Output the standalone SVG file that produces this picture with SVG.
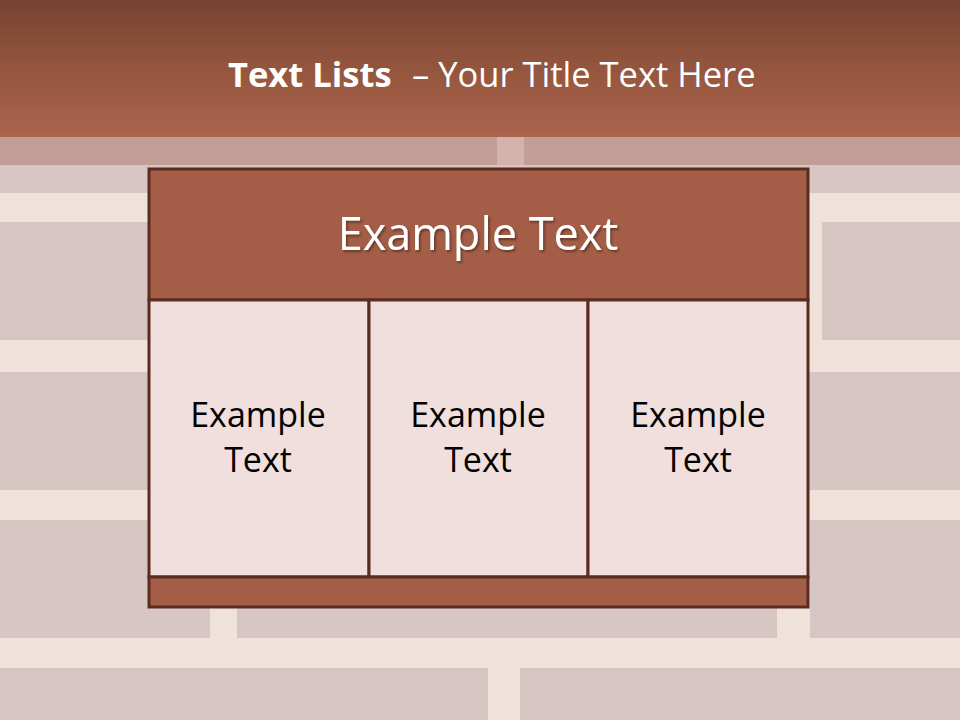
<svg xmlns="http://www.w3.org/2000/svg" width="960" height="720" viewBox="0 0 960 720">
<defs>
<linearGradient id="hdr" x1="0" y1="0" x2="0" y2="1">
<stop offset="0" stop-color="#764332"/>
<stop offset="0.55" stop-color="#97573f"/>
<stop offset="1" stop-color="#ab644e"/>
</linearGradient>
<filter id="sh" x="-10%" y="-20%" width="120%" height="140%">
<feDropShadow dx="1.5" dy="2" stdDeviation="1.2" flood-color="#3a1a10" flood-opacity="0.6"/>
</filter>
<style>
.mortar{fill:#eee2db}
.brick{fill:#d8c6c4}
.tbl{stroke:#5a2c20;stroke-width:3}
.hd{fill:#a45e47}
.cell{fill:#f0dfdc}
.ttl{font-family:"Open Sans","Noto Sans",sans-serif;fill:#ffffff;font-size:34.5px}
.big{font-family:"Open Sans","Noto Sans",sans-serif;font-size:45px;fill:#ffffff;text-anchor:middle}
.ct{font-family:"Open Sans","Noto Sans",sans-serif;font-size:34px;fill:#000000;text-anchor:middle}
</style>
</defs>
<g id="background">
<rect x="0" y="0" width="960" height="720" class="mortar"/>
<rect x="0" y="165" width="960" height="28" class="brick"/>
<rect x="0" y="222" width="960" height="118" class="brick"/>
<rect x="808" y="222" width="14" height="118" class="mortar"/>
<rect x="0" y="372" width="960" height="118" class="brick"/>
<rect x="0" y="520" width="210" height="118" class="brick"/>
<rect x="237" y="520" width="540" height="118" class="brick"/>
<rect x="810" y="520" width="150" height="118" class="brick"/>
<rect x="0" y="668" width="488" height="52" class="brick"/>
<rect x="520" y="668" width="440" height="52" class="brick"/>
<rect x="0" y="137" width="960" height="28" fill="#c29e97"/>
<rect x="497" y="137" width="27" height="28" fill="#d3b3ab"/>
</g>
<g id="header">
<rect x="0" y="0" width="960" height="137" fill="url(#hdr)"/>
<text class="ttl" x="228" y="87" font-weight="bold">Text Lists</text>
<text class="ttl" x="412" y="87">– Your Title Text Here</text>
</g>
<g id="connectors"></g>
<g id="node-top">
<rect x="149" y="169" width="659" height="131" class="hd tbl"/>
<text class="big" x="478" y="250" filter="url(#sh)">Example Text</text>
</g>
<g id="node-col1">
<rect x="149" y="300" width="220" height="277" class="cell tbl"/>
<text class="ct" x="258" y="427">Example</text>
<text class="ct" x="258" y="472">Text</text>
</g>
<g id="node-col2">
<rect x="369" y="300" width="219" height="277" class="cell tbl"/>
<text class="ct" x="478" y="427">Example</text>
<text class="ct" x="478" y="472">Text</text>
</g>
<g id="node-col3">
<rect x="588" y="300" width="220" height="277" class="cell tbl"/>
<text class="ct" x="698" y="427">Example</text>
<text class="ct" x="698" y="472">Text</text>
</g>
<g id="node-footer">
<rect x="149" y="577" width="659" height="30" class="hd tbl"/>
</g>
</svg>
